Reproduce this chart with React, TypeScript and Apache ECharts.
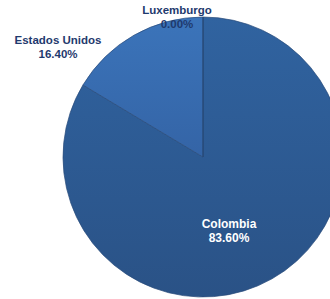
import React, { useEffect, useRef } from "react";
import * as echarts from "echarts";

const categories = ["Colombia", "Estados Unidos", "Luxemburgo"];
const shares = [83.6, 16.4, 0.0];

const labelPos: Record<string, [number, number]> = {
  Colombia: [229, 231],
  "Estados Unidos": [58, 47],
  Luxemburgo: [177, 17],
};

export default function App() {
  const ref = useRef<HTMLDivElement>(null);
  useEffect(() => {
    if (!ref.current) return;
    const chart = echarts.init(ref.current, undefined, { renderer: "svg" });
    const fills = [
      new echarts.graphic.LinearGradient(0, 0, 0, 1, [
        { offset: 0, color: "#3063A0" },
        { offset: 1, color: "#2A5286" },
      ]),
      new echarts.graphic.LinearGradient(0, 0, 0, 1, [
        { offset: 0, color: "#3B74BA" },
        { offset: 1, color: "#3464A6" },
      ]),
      "#3B74BA",
    ];
    chart.setOption({
      animation: false,
      series: [
        {
          type: "pie",
          center: [203, 157],
          radius: 140,
          startAngle: 90,
          clockwise: true,
          avoidLabelOverlap: false,
          data: categories.map((c, i) => ({
            name: c,
            value: shares[i],
            itemStyle: { color: fills[i] },
            label: {
              color: i === 0 ? "#FFFFFF" : "#1F3A6E",
              fontSize: i === 0 ? 12 : 11.5,
            },
          })),
          itemStyle: { borderColor: "#284B7A", borderWidth: 0.7 },
          label: {
            show: true,
            position: "outside",
            fontFamily: "Liberation Sans, Arial, sans-serif",
            fontWeight: "bold",
            lineHeight: 14,
            align: "center",
            verticalAlign: "middle",
            formatter: (p: any) => `${p.name}\n${Number(p.value).toFixed(2)}%`,
          },
          labelLine: { show: false },
          labelLayout: (p: any) => {
            const pos = labelPos[categories[p.dataIndex]];
            return { x: pos[0], y: pos[1], align: "center", verticalAlign: "middle" };
          },
          emphasis: { disabled: true },
        },
      ],
    });
    return () => chart.dispose();
  }, []);
  return (
    <div
      ref={ref}
      style={{ position: "absolute", left: 0, top: 0, width: 330, height: 299 }}
    />
  );
}
